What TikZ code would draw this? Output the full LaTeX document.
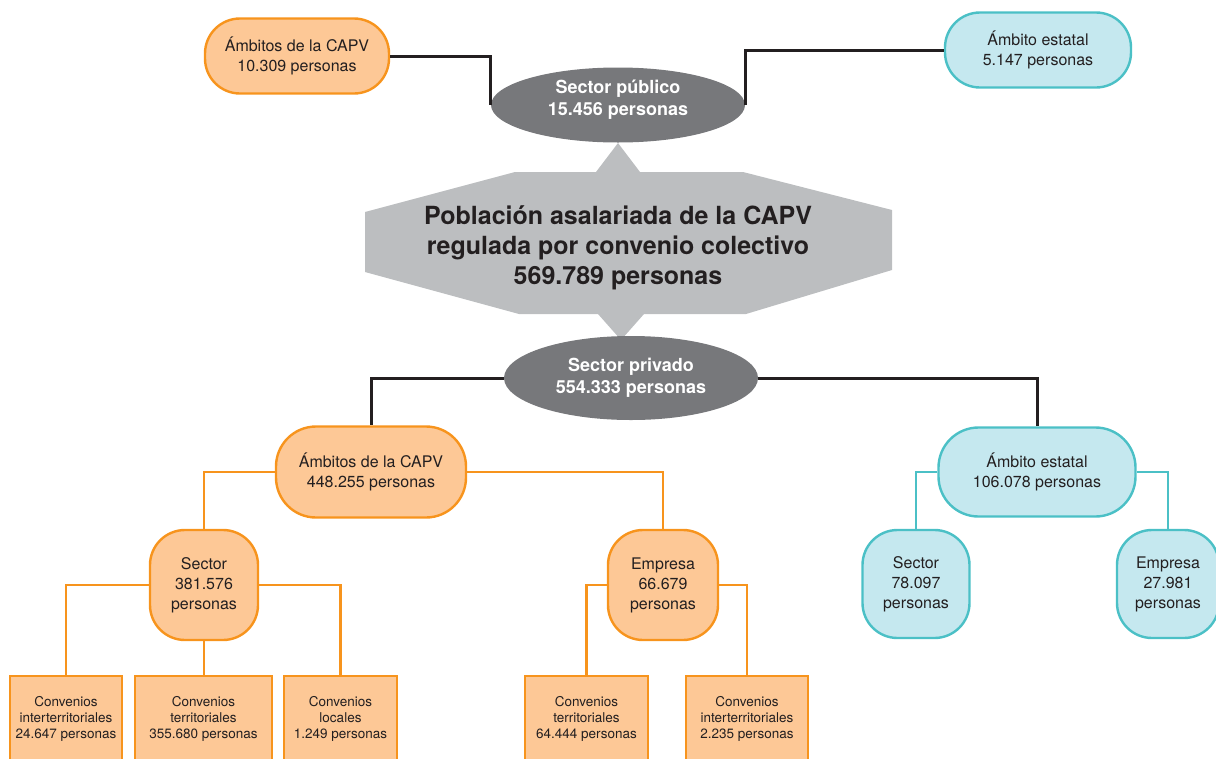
\documentclass[tikz,border=0pt]{standalone}
\usepackage{fontspec}
\setmainfont{TeX Gyre Heros}
\usetikzlibrary{shapes.geometric}
\definecolor{ofill}{HTML}{FDC896}
\definecolor{oline}{HTML}{F7941D}
\definecolor{bfill}{HTML}{C5E8EF}
\definecolor{bline}{HTML}{4BC0C6}
\definecolor{dgray}{HTML}{77787B}
\definecolor{lgray}{HTML}{BCBEC0}
\definecolor{txt}{HTML}{231F20}
\tikzset{
  obox/.style={draw=oline, fill=ofill, line width=2.4pt, rounded corners=35pt, align=center, text=txt, inner sep=0pt, font=\fontsize{16}{19.5}\selectfont},
  bbox/.style={draw=bline, fill=bfill, line width=2.4pt, rounded corners=35pt, align=center, text=txt, inner sep=0pt, font=\fontsize{16}{19.5}\selectfont},
  ell/.style={ellipse, fill=dgray, text=white, inner sep=0pt, align=center, font=\bfseries\fontsize{18}{22}\selectfont},
  conv/.style={draw=oline, fill=ofill, line width=2.4pt, align=center, text=txt, inner sep=0pt, anchor=north, minimum height=86pt, font=\fontsize{13.5}{16}\selectfont},
  blk/.style={draw=txt, line width=3pt},
  oln/.style={draw=oline, line width=2.8pt},
  bln/.style={draw=bline, line width=2.8pt}
}
\begin{document}
\begin{tikzpicture}[x=1pt,y=-1pt]
\useasboundingbox (0,0) rectangle (1216,758);
\clip (0,0) rectangle (1216,758);
% central polygon
\fill[lgray] (618,143) -- (640,172) -- (743,172) -- (892,210) -- (892,270) -- (746,314) -- (644,314) -- (621,340) -- (598,314) -- (519,314) -- (365,272) -- (365,212) -- (515,172) -- (596,172) -- cycle;
\node[font=\bfseries\fontsize{25}{30}\selectfont, align=center, text=txt] (main) at (618,248) {Población asalariada de la CAPV\\regulada por convenio colectivo\\569.789 personas};
% top
\node[ell, minimum width=254pt, minimum height=75pt, text depth=14pt] (pub) at (618,105) {Sector público\\15.456 personas};
\node[obox, minimum width=184pt, minimum height=75pt] (tl) at (297,56) {Ámbitos de la CAPV\\10.309 personas};
\node[bbox, minimum width=186pt, minimum height=75pt] (tr) at (1038,50) {Ámbito estatal\\5.147 personas};
% private
\node[ell, minimum width=254pt, minimum height=84pt] (priv) at (631,378) {Sector privado\\554.333 personas};
\node[obox, minimum width=190pt, minimum height=91pt, rounded corners=40pt] (ac) at (371,472) {Ámbitos de la CAPV\\448.255 personas};
\node[bbox, minimum width=197pt, minimum height=89pt, rounded corners=40pt] (ae) at (1037,472) {Ámbito estatal\\106.078 personas};
\node[obox, minimum width=108pt, minimum height=110pt, font=\fontsize{16}{20}\selectfont] (sec) at (204,585) {Sector\\381.576\\personas};
\node[obox, minimum width=110pt, minimum height=110pt, font=\fontsize{16}{20}\selectfont] (emp) at (663,585) {Empresa\\66.679\\personas};
\node[bbox, minimum width=107pt, minimum height=108pt, font=\fontsize{16}{20}\selectfont] (bs) at (916,584) {Sector\\78.097\\personas};
\node[bbox, minimum width=102pt, minimum height=108pt, font=\fontsize{16}{20}\selectfont] (be) at (1168,584) {Empresa\\27.981\\personas};
% bottom
\node[conv, minimum width=112pt] (c1) at (66,675) {Convenios\\interterritoriales\\24.647 personas};
\node[conv, minimum width=137pt] (c2) at (203.5,675) {Convenios\\territoriales\\355.680 personas};
\node[conv, minimum width=113pt] (c3) at (340.5,675) {Convenios\\locales\\1.249 personas};
\node[conv, minimum width=123pt] (c4) at (586.5,675) {Convenios\\territoriales\\64.444 personas};
\node[conv, minimum width=122pt] (c5) at (747,675) {Convenios\\interterritoriales\\2.235 personas};
% connectors
\draw[blk] (tl.east) -| (pub.west);
\draw[blk] (tr.west) -| (pub.east);
\draw[blk] (priv.west) -| (ac.north);
\draw[blk] (priv.east) -| (ae.north);
\draw[oln] (ac.west) -| (sec.north);
\draw[oln] (ac.east) -| (emp.north);
\draw[oln] (sec.west) -| (c1.north);
\draw[oln] (sec.south) -- (sec.south |- c2.north);
\draw[oln] (sec.east) -| (c3.north);
\draw[oln] (emp.west) -| (c4.north);
\draw[oln] (emp.east) -| (c5.north);
\draw[bln] (ae.west) -| (bs.north);
\draw[bln] (ae.east) -| (be.north);
\end{tikzpicture}
\end{document}
